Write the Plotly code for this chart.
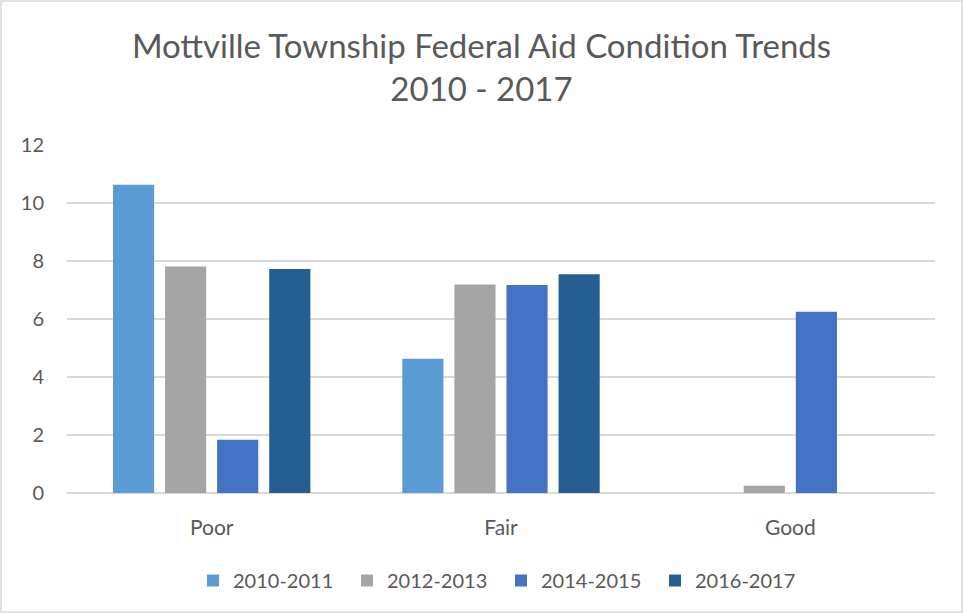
import plotly.graph_objects as go

categories = ["Poor", "Fair", "Good"]
series_names = ["2010-2011", "2012-2013", "2014-2015", "2016-2017"]
values_2010_2011 = [10.63, 4.63, 0]
values_2012_2013 = [7.81, 7.19, 0.25]
values_2014_2015 = [1.84, 7.17, 6.25]
values_2016_2017 = [7.72, 7.54, 0]
y_ticks = [0, 2, 4, 6, 8, 10, 12]

colors = ["#5b9bd5", "#a5a5a5", "#4472c4", "#255e91"]
all_values = [values_2010_2011, values_2012_2013, values_2014_2015, values_2016_2017]

fig = go.Figure()
for name, vals, col in zip(series_names, all_values, colors):
    fig.add_trace(go.Bar(
        name=name,
        x=categories,
        y=vals,
        marker=dict(color=col, line=dict(width=0)),
    ))

# margins of the plot area, in pixels
ml, mr, mt, mb = 67, 28, 145, 120
pw = 963 - ml - mr
ph = 613 - mt - mb

fig.update_layout(
    width=963,
    height=613,
    barmode="group",
    bargap=0.28,
    bargroupgap=0.21,
    paper_bgcolor="white",
    plot_bgcolor="white",
    font=dict(family="Lato", color="#595959"),
    margin=dict(l=ml, r=mr, t=mt, b=mb),
    title=dict(
        text="Mottville Township Federal Aid Condition Trends<br>2010 - 2017",
        x=0.5,
        xanchor="center",
        y=1 - 58 / 613,
        yanchor="top",
        font=dict(size=33, color="#595959", family="Lato"),
    ),
    xaxis=dict(
        showgrid=False,
        showline=False,
        ticks="",
        ticklabelstandoff=20,
        tickfont=dict(size=21, color="#595959"),
    ),
    yaxis=dict(
        range=[0, 12],
        tickvals=y_ticks,
        showgrid=True,
        gridcolor="#d9d9d9",
        gridwidth=1.5,
        zeroline=True,
        zerolinecolor="#d9d9d9",
        zerolinewidth=1.5,
        ticks="",
        ticklabelstandoff=22,
        tickfont=dict(size=20, color="#595959"),
    ),
    legend=dict(
        orientation="h",
        x=0.5,
        xanchor="center",
        y=-(577 - 493 - 16) / ph,
        yanchor="top",
        font=dict(size=20, color="#595959"),
        itemsizing="constant",
        entrywidth=109,
    ),
    shapes=[dict(
        type="rect",
        xref="paper", yref="paper",
        x0=(-ml + 1) / pw, x1=1 + (mr - 1) / pw,
        y0=-(mb - 1) / ph, y1=1 + (mt - 1) / ph,
        line=dict(color="#d9d9d9", width=1.5),
        fillcolor="rgba(0,0,0,0)",
        layer="below",
    )],
)

fig.write_html(
    "out.html",
    config={"displayModeBar": False},
    post_script="document.body.style.margin='0';",
)
